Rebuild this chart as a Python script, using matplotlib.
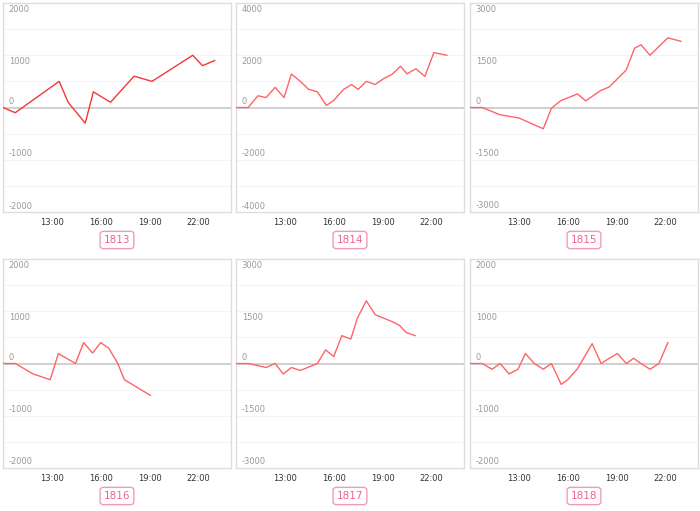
import numpy as np
import matplotlib
matplotlib.use("Agg")
import matplotlib.pyplot as plt
import matplotlib.transforms as mtransforms

# data (time in hours, value)
names = ["1813", "1814", "1815", "1816", "1817", "1818"]
y_limits = [2000, 4000, 3000, 2000, 3000, 2000]

t_1813 = [10.0, 10.75, 13.45, 14.0, 15.05, 15.55, 16.6, 18.05, 19.15, 21.65, 22.25, 23.0]
v_1813 = [0, -100, 500, 100, -300, 300, 100, 600, 500, 1000, 800, 900]

t_1814 = [10.0, 10.75, 11.35, 11.85, 12.4, 12.95, 13.4, 13.95, 14.45, 15.0, 15.55, 16.0,
          16.6, 17.1, 17.5, 18.0, 18.55, 19.05, 19.6, 20.1, 20.5, 21.05, 21.6, 22.15, 22.95]
v_1814 = [0, 0, 450, 380, 770, 380, 1280, 1000, 700, 600, 80, 270,
          690, 880, 690, 1000, 880, 1100, 1280, 1580, 1290, 1480, 1190, 2100, 2000]

t_1815 = [10.0, 10.75, 11.85, 13.0, 14.5, 15.0, 15.55, 16.6, 17.1, 18.0, 18.55, 19.6,
          20.1, 20.5, 21.05, 22.15, 22.95]
v_1815 = [0, 0, -210, -300, -610, -20, 190, 390, 190, 480, 590, 1080,
          1700, 1800, 1500, 2000, 1900]

t_1816 = [10.0, 10.75, 11.85, 12.9, 13.4, 14.45, 14.95, 15.5, 16.0, 16.5, 17.05, 17.45, 19.05]
v_1816 = [0, 0, -200, -310, 190, 0, 400, 200, 400, 290, 0, -310, -610]

t_1817 = [10.0, 10.75, 11.85, 12.4, 12.9, 13.4, 13.95, 15.0, 15.5, 16.0, 16.5, 17.05,
          17.45, 18.0, 18.55, 19.6, 20.05, 20.45, 21.0]
v_1817 = [0, 0, -115, 0, -300, -115, -200, 0, 390, 200, 800, 700,
          1300, 1800, 1400, 1200, 1090, 890, 800]

t_1818 = [10.0, 10.75, 11.35, 11.85, 12.4, 12.95, 13.4, 13.95, 14.5, 15.0, 15.6, 16.0,
          16.6, 17.5, 18.05, 18.55, 19.05, 19.6, 20.05, 20.5, 21.05, 21.6, 22.15]
v_1818 = [0, 0, -110, 0, -200, -110, 190, 0, -110, 0, -400, -310,
          -100, 380, 0, 100, 190, 0, 100, 0, -110, 0, 400]

times = [t_1813, t_1814, t_1815, t_1816, t_1817, t_1818]
values = [v_1813, v_1814, v_1815, v_1816, v_1817, v_1818]
line_colors = ["#f2383c", "#ff6466", "#ff6466", "#ff6466", "#ff6466", "#ff6466"]
x_ticks = [13, 16, 19, 22]
x_labels = ["13:00", "16:00", "19:00", "22:00"]

W, H = 700, 511
fig = plt.figure(figsize=(W / 100, H / 100), dpi=100)

lefts = [3, 236, 470]
tops = [3, 259]
pw, ph = 228, 209

for i in range(6):
    row, col = divmod(i, 3)
    x0, y0 = lefts[col], tops[row]
    ax = fig.add_axes([x0 / W, 1 - (y0 + ph) / H, pw / W, ph / H])
    lim = y_limits[i]
    ax.set_xlim(10, 24)
    ax.set_ylim(-lim, lim)

    # faint grid every eighth of the range
    for g in np.linspace(-lim, lim, 9)[1:-1]:
        if g != 0:
            ax.axhline(g, color="#f3f3f3", lw=0.7, zorder=0)
    ax.axhline(0, color="#cccccc", lw=1.3, zorder=1)

    ax.plot(times[i], values[i], color=line_colors[i], lw=1.0, zorder=3)

    # y labels drawn inside the plot
    for v in [lim, lim / 2, 0, -lim / 2, -lim]:
        dy = -6 if v > 0 else 6
        off = mtransforms.offset_copy(ax.transData, fig=fig, x=0, y=dy, units="dots")
        tr = mtransforms.blended_transform_factory(ax.transAxes, off)
        ax.text(0.025, v, f"{int(v)}", transform=tr, ha="left", va="center",
                fontsize=6, color="#9a9a9a")

    ax.set_yticks([])
    ax.set_xticks(x_ticks)
    ax.set_xticklabels(x_labels, fontsize=6, color="#333333")
    ax.tick_params(axis="x", length=0, pad=4)
    for s in ax.spines.values():
        s.set_color("#dddddd")
        s.set_linewidth(1.0)

    # name tag under each chart
    fig.text((x0 + pw / 2) / W, 1 - (y0 + ph + 28) / H, names[i],
             ha="center", va="center", fontsize=7.5, color="#f0648f",
             bbox=dict(boxstyle="round,pad=0.35,rounding_size=0.3", fc="white",
                       ec="#f59ab5", lw=1.0))

fig.savefig("out.png", dpi=100)
